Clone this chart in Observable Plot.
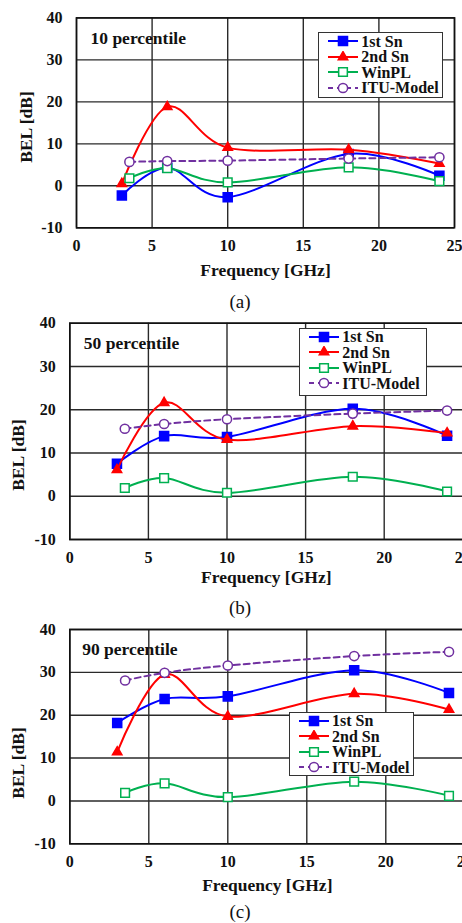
<!DOCTYPE html>
<html>
<head>
<meta charset="utf-8">
<script src="https://cdn.jsdelivr.net/npm/d3@7"></script>
<script src="https://cdn.jsdelivr.net/npm/@observablehq/plot@0.6"></script>
<style>
  html, body { margin: 0; padding: 0; background: #fff; }
  body { width: 462px; height: 923px; overflow: hidden; position: relative; }
  .panel { position: absolute; left: 0; }
  .panel svg { font-family: "Liberation Serif", "Times New Roman", serif; overflow: visible; max-width: none !important; }
  .caption { position: absolute; font-family: "Liberation Serif", "Times New Roman", serif;
             font-size: 19px; color: #111; transform: translate(-50%, -50%); white-space: nowrap; }
  .legend { position: absolute; background: #fff; border: 1.6px solid #333; box-sizing: border-box;
            font-family: "Liberation Serif", "Times New Roman", serif; font-weight: bold;
            font-size: 16px; color: #111; padding: 0.5px 0 0 9px; line-height: 15px; }
  .legend .row { display: flex; align-items: center; height: 15.4px; white-space: nowrap; }
  .legend svg { margin-right: 3px; flex: none; }
</style>
</head>
<body>
<script>
// Frequencies (GHz) for the measured series and the reference models
const snFreq = [3, 6, 10, 18, 24];
const refFreq = [3.5, 6, 10, 18, 24];

const seriesNames = ["1st Sn", "2nd Sn", "WinPL", "ITU-Model"];
const percentiles = ["10 percentile", "50 percentile", "90 percentile"];
const captions = ["(a)", "(b)", "(c)"];

// BEL [dB], one row per percentile (10, 50, 90)
const sn1 = [
  [-2.3, 4.3, -2.7, 7.6, 2.4],
  [7.5, 13.9, 13.7, 20.2, 14.0],
  [18.2, 23.8, 24.4, 30.5, 25.2]
];
const sn2 = [
  [0.5, 18.8, 9.1, 8.6, 5.3],
  [6.1, 21.6, 13.1, 16.2, 14.6],
  [11.4, 29.5, 19.7, 25.0, 21.3]
];
const winpl = [
  [1.8, 4.2, 0.8, 4.4, 1.1],
  [1.9, 4.2, 0.8, 4.5, 1.1],
  [1.9, 4.1, 0.9, 4.5, 1.2]
];
const itu = [
  [5.7, 5.9, 6.0, 6.5, 6.8],
  [15.6, 16.7, 17.8, 19.1, 19.8],
  [28.1, 29.9, 31.6, 33.8, 34.8]
];

const xTicks = [0, 5, 10, 15, 20, 25];
const yTicks = [-10, 0, 10, 20, 30, 40];

// Series styling
const styles = [
  {stroke: "#0000ff", symbol: "square", fill: "#0000ff", r: 5.1, dash: null},
  {stroke: "#ff0000", symbol: "triangle", fill: "#ff0000", r: 3.5, dash: null},
  {stroke: "#00b050", symbol: "square", fill: "#fff", r: 4.9, dash: null},
  {stroke: "#7030a0", symbol: "circle", fill: "#fff", r: 4.6, dash: "6,4"}
];

// Panel geometry
const layout = [
  {top: 0, height: 310, width: 462, mt: 17.4, mb: 82.7, ml: 76, mr: 8,
   tickY: 12, titleY: 48, ylabX: 26, ylabY: 127, capX: 240, capY: 302, pctX: 14,
   legend: {left: 318.3, top: 32.3, width: 124.4, height: 66}},
  {top: 310, height: 310, width: 470, mt: 12.7, mb: 81, ml: 69.3, mr: 7.7,
   tickY: 12, titleY: 43, ylabX: 17.5, ylabY: 455, capX: 240, capY: 608, pctX: 14,
   legend: {left: 299.3, top: 327.7, width: 127.4, height: 68}},
  {top: 620, height: 303, width: 472.3, mt: 9, mb: 79.7, ml: 69.3, mr: 8,
   tickY: 12, titleY: 47, ylabX: 17.5, ylabY: 763, capX: 240, capY: 912, pctX: 12.4,
   legend: {left: 289, top: 711.7, width: 125, height: 64.5}}
];

function seriesRows(p) {
  const sets = [[snFreq, sn1[p]], [snFreq, sn2[p]], [refFreq, winpl[p]], [refFreq, itu[p]]];
  return sets.map(([xs, ys], i) => xs.map((x, j) => ({series: seriesNames[i], x, y: ys[j]})));
}

function swatch(s) {
  const ns = "http://www.w3.org/2000/svg";
  const svg = document.createElementNS(ns, "svg");
  svg.setAttribute("width", 30); svg.setAttribute("height", 12);
  const line = document.createElementNS(ns, "line");
  line.setAttribute("x1", 0); line.setAttribute("x2", 30);
  line.setAttribute("y1", 6); line.setAttribute("y2", 6);
  line.setAttribute("stroke", s.stroke); line.setAttribute("stroke-width", 2);
  if (s.dash) line.setAttribute("stroke-dasharray", "5,4");
  svg.appendChild(line);
  const path = document.createElementNS(ns, "path");
  const size = Math.PI * s.r * s.r;
  const sym = s.symbol === "square" ? d3.symbolSquare : s.symbol === "triangle" ? d3.symbolTriangle : d3.symbolCircle;
  path.setAttribute("d", d3.symbol(sym, size)());
  path.setAttribute("transform", "translate(15,6)");
  path.setAttribute("fill", s.fill); path.setAttribute("stroke", s.stroke);
  path.setAttribute("stroke-width", 1.5);
  svg.appendChild(path);
  return svg;
}

layout.forEach((L, p) => {
  const rows = seriesRows(p);
  const marks = [
    Plot.gridX(xTicks, {stroke: "#2a2a2a", strokeOpacity: 1, strokeWidth: 1.4}),
    Plot.gridY(yTicks, {stroke: "#2a2a2a", strokeOpacity: 1, strokeWidth: 1.4}),
    Plot.frame({stroke: "#111", strokeWidth: 1.6}),
    Plot.axisX(xTicks, {tickSize: 0, tickPadding: L.tickY, fontSize: 16, fontWeight: "bold", fill: "#111", label: null}),
    Plot.axisY(yTicks, {tickSize: 0, tickPadding: 14, fontSize: 16, fontWeight: "bold", fill: "#111", label: null, tickFormat: d => d < 0 ? "-" + Math.abs(d) : String(d)}),
    Plot.text(["Frequency [GHz]"], {frameAnchor: "bottom", dy: L.titleY, fontSize: 17.5, fontWeight: "bold", fill: "#111", text: d => d}),
    Plot.text([percentiles[p]], {frameAnchor: "top-left", dx: L.pctX, dy: 20, textAnchor: "start", lineAnchor: "middle", fontSize: 17.5, fontWeight: "bold", fill: "#111", text: d => d})
  ];
  rows.forEach((data, i) => {
    const s = styles[i];
    marks.push(Plot.line(data, {x: "x", y: "y", stroke: s.stroke, strokeWidth: 2, curve: "cardinal", strokeDasharray: s.dash}));
    marks.push(Plot.dot(data, {x: "x", y: "y", symbol: s.symbol, fill: s.fill, stroke: s.stroke, strokeWidth: 1.5, r: s.r}));
  });

  const chart = Plot.plot({
    width: L.width, height: L.height,
    marginTop: L.mt, marginBottom: L.mb, marginLeft: L.ml, marginRight: L.mr,
    x: {domain: [0, 25], axis: null},
    y: {domain: [-10, 40], axis: null},
    style: {background: "transparent", maxWidth: "none", fontFamily: "Liberation Serif, Times New Roman, serif"},
    marks
  });
  const div = document.createElement("div");
  div.className = "panel";
  div.style.top = L.top + "px";
  div.appendChild(chart);
  document.body.appendChild(div);

  // y axis title
  const yl = document.createElement("div");
  yl.className = "caption";
  yl.style.left = L.ylabX + "px"; yl.style.top = L.ylabY + "px";
  yl.style.fontWeight = "bold"; yl.style.fontSize = "17.5px";
  yl.style.transform = "translate(-50%, -50%) rotate(-90deg)";
  yl.textContent = "BEL [dB]";
  document.body.appendChild(yl);

  // panel caption
  const cap = document.createElement("div");
  cap.className = "caption";
  cap.style.left = L.capX + "px"; cap.style.top = L.capY + "px";
  cap.textContent = captions[p];
  document.body.appendChild(cap);

  // legend
  const lg = document.createElement("div");
  lg.className = "legend";
  Object.assign(lg.style, {left: L.legend.left + "px", top: L.legend.top + "px",
    width: L.legend.width + "px", height: L.legend.height + "px"});
  seriesNames.forEach((name, i) => {
    const row = document.createElement("div");
    row.className = "row";
    row.appendChild(swatch(styles[i]));
    const t = document.createElement("span");
    t.textContent = name;
    row.appendChild(t);
    lg.appendChild(row);
  });
  document.body.appendChild(lg);
});
</script>
</body>
</html>
